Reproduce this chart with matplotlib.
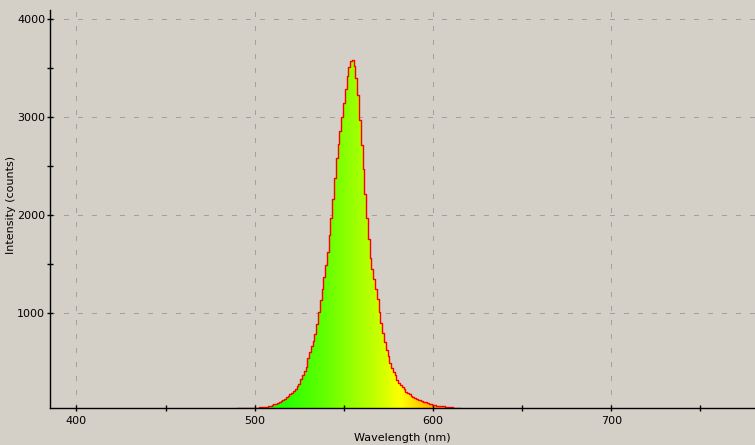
import numpy as np
import matplotlib
matplotlib.use("Agg")
import matplotlib.pyplot as plt
from matplotlib.colors import LinearSegmentedColormap
from matplotlib.ticker import FixedLocator

wavelength = list(range(490, 616))
intensity = [
    30, 30, 31, 31, 32, 32, 33, 33, 34, 35,
    36, 37, 38, 40, 41, 43, 45, 48, 52, 57,
    62, 69, 77, 85, 95, 105, 115, 130, 145, 160,
    175, 190, 208, 230, 255, 280, 325, 370, 412, 455,
    540, 600, 670, 720, 785, 890, 1010, 1136, 1250, 1370,
    1490, 1630, 1800, 1970, 2170, 2380, 2582, 2730, 2860, 3000,
    3150, 3290, 3420, 3510, 3570, 3585, 3520, 3400, 3230, 2970,
    2720, 2470, 2220, 1970, 1760, 1560, 1450, 1350, 1250, 1150,
    1010, 900, 796, 710, 620, 560, 495, 445, 405, 365,
    320, 292, 268, 245, 225, 200, 184, 172, 160, 148,
    138, 128, 118, 111, 104, 97, 90, 83, 76, 70,
    64, 61, 58, 56, 53, 51, 49, 47, 45, 43,
    41, 39, 37, 35, 33, 32,
]

# spectral gradient stops (wavelength nm, colour)
grad_wl = [490, 515, 540, 555, 570, 582, 592, 602, 615]
grad_col = ["#00ff00", "#22ff00", "#66ff00", "#99ff00", "#ccff00",
            "#ffff00", "#ffd200", "#ffaa00", "#ff8800"]

x_major = [400, 500, 600, 700]
x_minor = [450, 550, 650, 750]
y_major = [1000, 2000, 3000, 4000]
y_minor = [1500, 2500, 3500]

bg = "#d4d0c8"
fig = plt.figure(figsize=(7.55, 4.45), dpi=100, facecolor=bg)
W, H = 755, 445
ax = fig.add_axes([50 / W, (H - 408.3) / H, (W - 50) / W, (408.3 - 10) / H])
ax.set_facecolor(bg)

xmin, xmax = 385.2, 780.6
ymin, ymax = 30, 4095
ax.set_xlim(xmin, xmax)
ax.set_ylim(ymin, ymax)

# grid
gkw = dict(color="#a0a0a0", lw=0.72, ls=(0, (5, 10)), zorder=0, antialiased=False)
for v in x_major:
    ax.axvline(v, **gkw)
for v in y_major:
    ax.axhline(v, **gkw)

wl = np.array(wavelength, dtype=float)
it = np.array(intensity, dtype=float)

poly = ax.fill_between(wl, ymin, it, step="mid", facecolor="none",
                       edgecolor="none", zorder=1)
pos = [(g - grad_wl[0]) / (grad_wl[-1] - grad_wl[0]) for g in grad_wl]
cmap = LinearSegmentedColormap.from_list("spec", list(zip(pos, grad_col)))
grad = np.linspace(0, 1, 512).reshape(1, -1)
im = ax.imshow(grad, cmap=cmap, aspect="auto",
               extent=[grad_wl[0], grad_wl[-1], ymin, ymax],
               zorder=1, interpolation="bilinear")
im.set_clip_path(poly.get_paths()[0], transform=ax.transData)

ax.step(wl, it, where="mid", color="#ff0000", lw=1.0, zorder=2)

ax.set_xlim(xmin, xmax)
ax.set_ylim(ymin, ymax)

for s in ["top", "right"]:
    ax.spines[s].set_visible(False)
for s in ["left", "bottom"]:
    ax.spines[s].set_color("black")
    ax.spines[s].set_linewidth(1.0)

ax.xaxis.set_major_locator(FixedLocator(x_major))
ax.xaxis.set_minor_locator(FixedLocator(x_minor))
ax.yaxis.set_major_locator(FixedLocator(y_major))
ax.yaxis.set_minor_locator(FixedLocator(y_minor))
ax.tick_params(which="both", direction="inout", length=5, width=1.0,
               color="black", labelsize=8, labelcolor="black")
ax.tick_params(axis="x", pad=3)
ax.tick_params(axis="y", pad=1)

ax.set_xlabel("Wavelength (nm)", fontsize=8, labelpad=5)
ax.set_ylabel("Intensity (counts)", fontsize=8)
ax.yaxis.set_label_coords(-0.048, 0.51)

fig.savefig("out.png", dpi=100, facecolor=bg)
